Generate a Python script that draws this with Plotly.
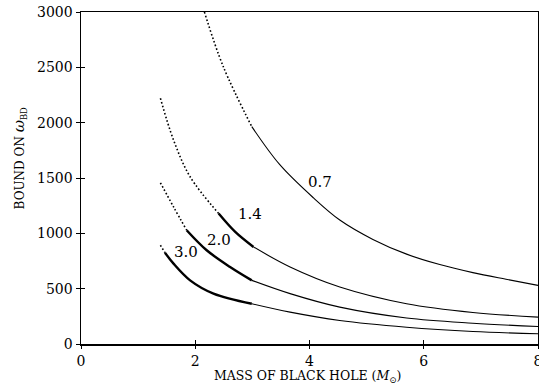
import plotly.graph_objects as go

# Data (mass of black hole in solar masses, bound on omega_BD)
m_07 = [2.16, 2.49, 2.99, 3.48, 4.07, 4.53, 5.11, 5.70, 6.28, 6.86, 7.44, 8.0]
w_07 = [3000, 2507, 1964, 1620, 1320, 1120, 945, 812, 718, 645, 585, 530]

m_14 = [1.39, 1.62, 1.91, 2.41, 2.70, 3.02, 3.66, 4.53, 5.70, 6.86, 8.0]
w_14 = [2221, 1843, 1511, 1179, 1013, 877, 696, 515, 364, 285, 243]

m_20 = [1.39, 1.62, 1.85, 2.20, 2.61, 2.99, 3.66, 4.53, 5.70, 6.86, 8.0]
w_20 = [1457, 1239, 1028, 847, 696, 575, 455, 333, 235, 188, 158]

m_30 = [1.39, 1.47, 1.62, 1.91, 2.32, 2.99, 3.66, 4.53, 5.70, 6.86, 8.0]
w_30 = [892, 825, 726, 575, 455, 364, 288, 213, 152, 113, 92]

labels = ["0.7", "1.4", "2.0", "3.0"]
label_m = [4.18, 2.96, 2.41, 1.83]
label_w = [1466, 1179, 937, 832]

x_ticks = [0, 2, 4, 6, 8]
y_ticks = [0, 500, 1000, 1500, 2000, 2500, 3000]

# segment split indices: (dotted end index, thick end index)
curves = [
    (m_07, w_07, 2, 2),
    (m_14, w_14, 3, 5),
    (m_20, w_20, 2, 5),
    (m_30, w_30, 1, 5),
]

SERIF = "DejaVu Serif"

fig = go.Figure()
for m, w, i1, i2 in curves:
    fig.add_trace(go.Scatter(x=m[:i1 + 1], y=w[:i1 + 1], mode="lines",
                             line=dict(color="black", width=1.6, dash="1.6px,2.2px", shape="spline"),
                             hoverinfo="skip", showlegend=False))
    if i2 > i1:
        fig.add_trace(go.Scatter(x=m[i1:i2 + 1], y=w[i1:i2 + 1], mode="lines",
                                 line=dict(color="black", width=2.4, shape="spline"),
                                 hoverinfo="skip", showlegend=False))
    fig.add_trace(go.Scatter(x=m[i2:], y=w[i2:], mode="lines",
                             line=dict(color="black", width=1.1, shape="spline"),
                             hoverinfo="skip", showlegend=False))

# invisible trace so the overlay axes (outer half of the crossing ticks) are drawn
fig.add_trace(go.Scatter(x=[x_ticks[0]], y=[y_ticks[0]], xaxis="x2", yaxis="y2",
                         mode="markers", marker=dict(opacity=0), hoverinfo="skip",
                         showlegend=False))

for t, xm, yw in zip(labels, label_m, label_w):
    fig.add_annotation(x=xm, y=yw, text=t, showarrow=False,
                       font=dict(family=SERIF, size=15, color="black"))

axis_common = dict(showgrid=False, zeroline=False, showline=True, linecolor="black",
                   linewidth=1.5, mirror=True, ticks="inside", ticklen=4, tickwidth=1,
                   tickcolor="black", automargin=False, ticklabeloverflow="allow",
                   tickfont=dict(family=SERIF, size=14, color="black"))

fig.update_layout(
    xaxis=dict(range=[0, 8], tickvals=x_ticks, ticktext=[str(v) for v in x_ticks],
               ticklabelstandoff=4, **axis_common),
    yaxis=dict(range=[0, 3000], tickvals=y_ticks, ticktext=[str(v) for v in y_ticks],
               ticklabelstandoff=4, **axis_common),
    xaxis2=dict(overlaying="x", anchor="y", side="bottom", range=[0, 8], tickvals=x_ticks,
                showticklabels=False, ticks="outside", ticklen=4, tickwidth=1,
                tickcolor="black", showline=False, showgrid=False, zeroline=False,
                automargin=False),
    yaxis2=dict(overlaying="y", anchor="x", side="left", range=[0, 3000], tickvals=y_ticks,
                showticklabels=False, ticks="outside", ticklen=4, tickwidth=1,
                tickcolor="black", showline=False, showgrid=False, zeroline=False,
                automargin=False),
)

fig.add_annotation(xref="paper", yref="paper", x=0.495, y=-0.097, xanchor="center",
                   yanchor="middle", showarrow=False,
                   text="MASS OF BLACK HOLE (<i>M</i><sub>⊙</sub>)",
                   font=dict(family=SERIF, size=12.5, color="black"))
fig.add_annotation(xref="paper", yref="paper", x=-0.135, y=0.56, xanchor="center",
                   yanchor="middle", showarrow=False, textangle=-90,
                   text="BOUND ON <i><span style='font-size:15px'>ω</span></i><sub>BD</sub>",
                   font=dict(family=SERIF, size=12, color="black"))

fig.update_layout(width=539, height=392, margin=dict(l=81, r=1, t=12, b=48, autoexpand=False),
                  plot_bgcolor="white", paper_bgcolor="white")

fig.write_html("out.html", config={"displayModeBar": False, "staticPlot": True},
               post_script="document.body.style.margin='0';document.body.style.padding='0';")
